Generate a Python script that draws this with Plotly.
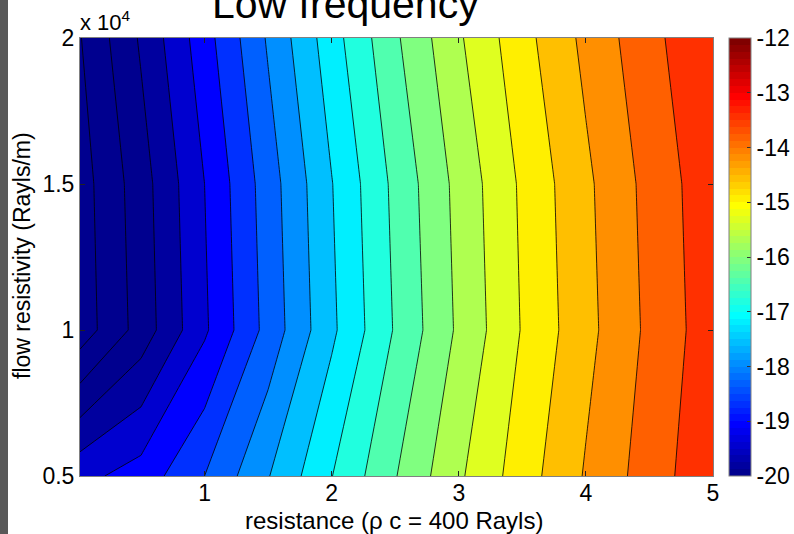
import numpy as np
import plotly.graph_objects as go

# ---------------- data ----------------
x_res = [0.02, 0.5, 1.0, 1.5, 2.0, 2.5, 3.0, 3.5, 4.0, 4.5, 5.0]
y_flow = [5000, 10000, 15000, 20000]
z_y5000 = [-19.16, -18.89, -18.30, -17.57, -16.81, -16.07, -15.36, -14.73, -14.14, -13.62, -13.13]
z_y10000 = [-20.76, -20.02, -19.11, -18.17, -17.25, -16.39, -15.61, -14.90, -14.29, -13.72, -13.21]
z_y15000 = [-20.72, -19.97, -19.05, -18.11, -17.19, -16.33, -15.56, -14.86, -14.25, -13.68, -13.18]
z_y20000 = [-20.57, -19.75, -18.83, -17.88, -16.96, -16.11, -15.35, -14.68, -14.08, -13.54, -13.07]

level_start = -20.55
level_end = -13.425
level_step = 0.375

c_min, c_max = -20, -12
cbar_ticks = [-20, -19, -18, -17, -16, -15, -14, -13, -12]
x_ticks = [1, 2, 3, 4, 5]
y_tickvals = [5000, 10000, 15000, 20000]
y_ticktext = ["0.5", "1", "1.5", "2"]

title_text = "Low frequency"
x_label = "resistance (\u03c1 c = 400 Rayls)"
y_label = "flow resistivity (Rayls/m)"
exp_label = "x 10<sup>4</sup>"


# ---------------- colormap (MATLAB jet) ----------------
def jet(m=64):
    n = int(np.ceil(m / 4))
    u = np.concatenate([np.arange(1, n + 1) / n, np.ones(n - 1), np.arange(n, 0, -1) / n])
    g = int(np.ceil(n / 2)) - (1 if m % 4 == 1 else 0) + np.arange(1, len(u) + 1)
    r = g + n
    b = g - n
    J = np.zeros((m, 3))
    for arr, col in ((r, 0), (g, 1), (b, 2)):
        mask = (arr >= 1) & (arr <= m)
        J[arr[mask] - 1, col] = u[mask]
    return J


JET = jet(64)


def rgb(i):
    c = JET[i]
    return "rgb(%d,%d,%d)" % tuple(int(round(255 * v)) for v in c)


def cindex(v):
    i = int(np.floor((v - c_min) / (c_max - c_min) * 64))
    return min(max(i, 0), 63)


levels = np.arange(level_start, level_end + level_step / 2, level_step)
nlev = len(levels)
fill_scale = []
for j in range(nlev + 1):
    idx = 0 if j == 0 else cindex(levels[j - 1])
    fill_scale.append([j / nlev, rgb(idx)])

bar_scale = []
for i in range(64):
    bar_scale.append([i / 64, rgb(i)])
    bar_scale.append([(i + 1) / 64, rgb(i)])

z = [z_y5000, z_y10000, z_y15000, z_y20000]

FONT = "Liberation Sans, Arial, sans-serif"
TICK_SIZE = 23
L, R, T, B = 80, 81, 38, 58
PW, PH = 794 - L - R, 534 - T - B


def px_x(p):
    return (p - L) / PW


def px_y(p):
    return (534 - B - p) / PH


fig = go.Figure()
fig.add_trace(go.Contour(
    x=x_res, y=y_flow, z=z,
    contours=dict(start=level_start, end=level_end, size=level_step, coloring="fill"),
    colorscale=fill_scale,
    line=dict(color="black", width=0.8, smoothing=0),
    showscale=False,
    hoverinfo="skip",
))
# dummy trace carrying the continuous colorbar
fig.add_trace(go.Scatter(
    x=[x_res[5], x_res[5]], y=[y_flow[1], y_flow[1]], mode="markers",
    marker=dict(size=0.1, opacity=0, color=[c_min, c_max], cmin=c_min, cmax=c_max,
                colorscale=bar_scale, showscale=True,
                colorbar=dict(
                    x=px_x(729), xanchor="left", xpad=0, ypad=0,
                    y=0, yanchor="bottom", len=1, lenmode="fraction",
                    thickness=22, thicknessmode="pixels",
                    tickvals=cbar_ticks, ticktext=[str(t) for t in cbar_ticks],
                    ticks="inside", ticklen=4, tickcolor="#333",
                    outlinecolor="#808080", outlinewidth=1,
                    tickfont=dict(family=FONT, size=TICK_SIZE, color="black"),
                )),
    showlegend=False, hoverinfo="skip",
))

fig.update_layout(
    width=794, height=534,
    margin=dict(l=L, r=R, t=T, b=B, autoexpand=False),
    paper_bgcolor="white", plot_bgcolor="white",
    font=dict(family=FONT, size=TICK_SIZE, color="black"),
    showlegend=False,
    xaxis=dict(range=[x_res[0], x_res[-1]], tickvals=x_ticks, ticks="inside", ticklen=5,
               tickcolor="#222", showline=True, linecolor="#808080", linewidth=1, mirror="ticks",
               showgrid=False, zeroline=False, automargin=False, ticklabelstandoff=-4,
               tickfont=dict(size=TICK_SIZE)),
    yaxis=dict(range=[y_flow[0], y_flow[-1]], tickvals=y_tickvals, ticktext=y_ticktext,
               ticks="inside", ticklen=5, tickcolor="#222", showline=True, linecolor="#808080",
               linewidth=1, mirror="ticks", showgrid=False, zeroline=False, automargin=False,
               tickfont=dict(size=TICK_SIZE)),
    annotations=[
        dict(text=title_text, xref="paper", yref="paper", x=px_x(345), y=px_y(29),
             xanchor="center", yanchor="bottom", showarrow=False,
             font=dict(family=FONT, size=41, color="black")),
        dict(text=exp_label, xref="paper", yref="paper", x=px_x(78), y=px_y(37),
             xanchor="left", yanchor="bottom", showarrow=False,
             font=dict(family=FONT, size=22, color="black")),
        dict(text=x_label, xref="paper", yref="paper", x=px_x(394), y=px_y(520),
             xanchor="center", yanchor="middle", showarrow=False,
             font=dict(family=FONT, size=24, color="black")),
        dict(text=y_label, xref="paper", yref="paper", x=px_x(22), y=px_y(256),
             xanchor="center", yanchor="middle", textangle=-90, showarrow=False,
             font=dict(family=FONT, size=23, color="black")),
    ],
    shapes=[
        dict(type="rect", xref="paper", yref="paper", x0=px_x(-2), x1=px_x(8),
             y0=px_y(540), y1=px_y(-6), fillcolor="#595959", line=dict(width=0),
             layer="above"),
    ],
)

fig.write_html("out.html", config={"displayModeBar": False},
               post_script="document.body.style.margin='0px';")
